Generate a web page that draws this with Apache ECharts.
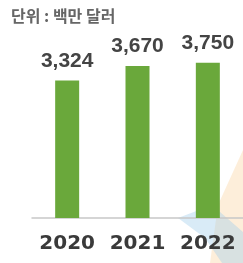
<!DOCTYPE html>
<html>
<head>
<meta charset="utf-8">
<script src="https://cdn.jsdelivr.net/npm/echarts@6/dist/echarts.min.js"></script>
<style>
html, body { margin: 0; padding: 0; background: #fff; }
#chart { width: 243px; height: 263px; }
</style>
</head>
<body>
<div id="chart"></div>
<script>
const years = ['2020', '2021', '2022']
const sales = [3324, 3670, 3750]
const unitText = '단위 : 백만 달러'

let myChart = echarts.init(document.getElementById('chart'), null, {renderer: 'canvas'})
let option = {
  animation: false,
  title: {
    text: unitText,
    left: 6,
    top: 3,
    textStyle: {
      fontFamily: 'Noto Sans CJK KR',
      fontSize: 16,
      fontWeight: 'bold',
      color: '#666'
    }
  },
  graphic: [
    {
      type: 'polygon',
      z: -1,
      shape: {points: [[243, 150], [243, 263], [210, 263], [218, 205]]},
      style: {fill: 'rgba(250, 205, 150, 0.35)'}
    },
    {
      type: 'polygon',
      z: -1,
      shape: {points: [[178, 218], [212, 205], [243, 232], [243, 263], [222, 263], [205, 238]]},
      style: {fill: 'rgba(160, 205, 235, 0.4)'}
    }
  ],
  grid: {
    left: 32,
    right: -8,
    top: 40,
    bottom: 45
  },
  xAxis: {
    type: 'category',
    data: years,
    axisLine: {show: true, lineStyle: {color: '#c8c8c8', width: 1.5}},
    axisTick: {show: false},
    axisLabel: {
      interval: 0,
      hideOverlap: false,
      margin: 16,
      fontFamily: 'DejaVu Sans',
      fontWeight: 'bold',
      fontSize: 20,
      color: '#3a3a3a'
    }
  },
  yAxis: {
    type: 'value',
    min: 0,
    max: 4300,
    show: false,
    splitLine: {show: false}
  },
  series: [{
    type: 'bar',
    data: sales,
    barWidth: 24,
    itemStyle: {color: '#6aa83b'},
    label: {
      show: true,
      position: 'top',
      distance: 9,
      fontFamily: 'Liberation Sans',
      fontWeight: 'bold',
      fontSize: 21,
      color: '#444',
      formatter: function(p) {
        return p.value.toLocaleString('en-US')
      }
    }
  }]
}
myChart.setOption(option)
</script>
</body>
</html>
